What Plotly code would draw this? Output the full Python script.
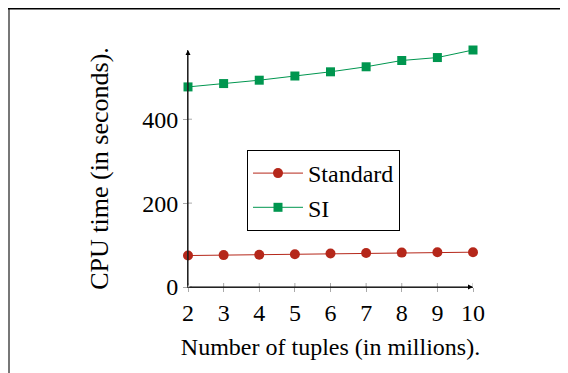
import plotly.graph_objects as go

x_vals = [2, 3, 4, 5, 6, 7, 8, 9, 10]
standard = [75, 76, 77, 78, 80, 81, 82, 83, 83]
si = [477, 485, 493, 503, 513, 525, 540, 547, 565]
y_ticks = [0, 200, 400]

FONT = "Liberation Serif"
RED = "#B5271A"
GREEN = "#00964F"
FS = 24

W, H = 568, 373
OFF = 8  # page body margin offset
L, T = 188 - OFF, 50 - OFF
pw, ph = 285, 237
R = W - L - pw
B = H - T - ph

def px2x(px):
    return (px - OFF - L) / pw

def py2y(py):
    return (T + ph - (py - OFF)) / ph

fig = go.Figure()
fig.add_trace(go.Scatter(x=x_vals, y=standard, name="Standard", mode="lines+markers",
                         line=dict(color=RED, width=1), cliponaxis=False,
                         marker=dict(symbol="circle", size=10, color=RED)))
fig.add_trace(go.Scatter(x=x_vals, y=si, name="SI", mode="lines+markers",
                         line=dict(color=GREEN, width=1), cliponaxis=False,
                         marker=dict(symbol="square", size=9, color=GREEN)))

ymax = 565
fig.update_xaxes(range=[2, 10], tickvals=x_vals, showgrid=False, zeroline=False,
                 showline=True, linecolor="#444", linewidth=1,
                 ticks="outside", ticklen=4, tickcolor="#aaa",
                 tickfont=dict(family=FONT, size=FS, color="black"),
                 title=dict(text="Number of tuples (in millions).", standoff=13,
                            font=dict(family=FONT, size=FS, color="black")))
fig.update_yaxes(range=[0, ymax], tickvals=y_ticks, showgrid=False, zeroline=False,
                 showline=True, linecolor="#444", linewidth=1,
                 ticks="outside", ticklen=4, tickcolor="#aaa",
                 tickfont=dict(family=FONT, size=FS, color="black"),
                 title=dict(text="CPU time (in seconds).", standoff=26,
                            font=dict(family=FONT, size=26, color="black")))

shapes = []
for xv in x_vals:
    shapes.append(dict(type="line", xref="x", yref="paper", x0=xv, x1=xv, y0=0, y1=4 / ph,
                       line=dict(color="#aaa", width=1)))
for yv in y_ticks:
    shapes.append(dict(type="line", xref="paper", yref="y", x0=0, x1=4 / pw, y0=yv, y1=yv,
                       line=dict(color="#aaa", width=1)))
# frame lines (as close to the page edge as the figure allows)
shapes.append(dict(type="line", xref="paper", yref="paper", x0=px2x(9), x1=px2x(9),
                   y0=py2y(400), y1=py2y(8), line=dict(color="#777", width=2)))
shapes.append(dict(type="line", xref="paper", yref="paper", x0=px2x(8), x1=px2x(600),
                   y0=py2y(8.8), y1=py2y(8.8), line=dict(color="black", width=1.5)))

annotations = [
    dict(x=10, y=0, ax=2, ay=0, xref="x", yref="y", axref="x", ayref="y", text="",
         showarrow=True, arrowhead=2, arrowsize=1, arrowwidth=1, arrowcolor="black"),
    dict(x=2, y=ymax, ax=2, ay=0, xref="x", yref="y", axref="x", ayref="y", text="",
         showarrow=True, arrowhead=2, arrowsize=1, arrowwidth=1, arrowcolor="black"),
]

fig.update_layout(
    width=W, height=H, margin=dict(l=L, r=R, t=T, b=B),
    paper_bgcolor="white", plot_bgcolor="white",
    font=dict(family=FONT, size=FS, color="black"),
    shapes=shapes, annotations=annotations,
    legend=dict(x=px2x(247), y=py2y(150), xanchor="left", yanchor="top",
                bordercolor="black", borderwidth=1, bgcolor="white",
                font=dict(family=FONT, size=FS, color="black"),
                itemwidth=50, tracegroupgap=0),
    showlegend=True,
)

fig.write_html("out.html")
